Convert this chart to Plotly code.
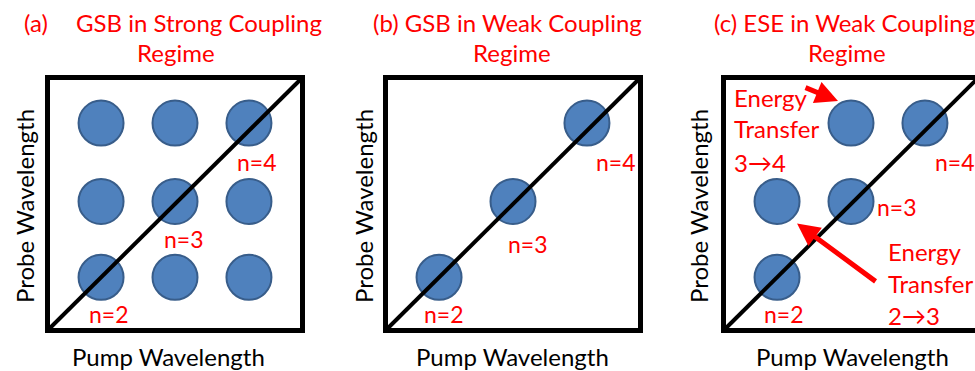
import plotly.graph_objects as go

W, H = 975, 371

# ---------------- data ----------------
levels = ["n=2", "n=3", "n=4"]
# peak positions of each level on the unit pump/probe square
pump_pos = [0.21, 0.50, 0.79]
probe_pos = [0.21, 0.51, 0.82]

# (pump level index, probe level index) of every peak in each panel
peaks_a = [(i, j) for j in range(3) for i in range(3)]
peaks_b = [(0, 0), (1, 1), (2, 2)]
peaks_c = [(0, 0), (1, 1), (2, 2), (1, 2), (0, 1)]

diag = [0.0, 1.0]

titles = ["GSB in Strong Coupling", "(b) GSB in Weak Coupling", "(c) ESE in Weak Coupling"]
subtitle = "Regime"
xlabel = "Pump Wavelength"
ylabel = "Probe Wavelength"

# ---------------- layout (pixels) ----------------
# box edges (left, right, top, bottom) of each panel
boxes = [(47.5, 302.5, 77.5, 330.5),
         (385.5, 640.5, 77.5, 330.5),
         (723.5, 978.5, 77.5, 330.5)]
PAD = 5

BLUE = "#4F81BD"
BLUE_EDGE = "#385D8A"
RED = "#FF0000"
FONT = "Lato"
TS = 24   # titles, axis labels, notes
LS = 23   # level labels

fig = go.Figure()


def px(x):
    return x / W


def py(y):
    return 1 - y / H


for k, (x0, x1, y0, y1) in enumerate(boxes):
    w, h = x1 - x0, y1 - y0
    sfx = "" if k == 0 else str(k + 1)
    d_left = max(x0 - PAD, 0)
    d_right = min(x1 + PAD, W)
    fig.update_layout(**{
        "xaxis" + sfx: dict(domain=[px(d_left), px(d_right)],
                            range=[(d_left - x0) / w, (d_right - x0) / w],
                            visible=False, anchor="y" + sfx, fixedrange=True),
        "yaxis" + sfx: dict(domain=[py(y1 + PAD), py(y0 - PAD)],
                            range=[-PAD / h, 1 + PAD / h],
                            visible=False, anchor="x" + sfx, fixedrange=True),
    })

panels = [peaks_a, peaks_b, peaks_c]
for k, peaks in enumerate(panels):
    xa = "x" if k == 0 else "x" + str(k + 1)
    ya = "y" if k == 0 else "y" + str(k + 1)
    fig.add_trace(go.Scatter(
        x=[pump_pos[i] for i, j in peaks],
        y=[probe_pos[j] for i, j in peaks],
        mode="markers", xaxis=xa, yaxis=ya, cliponaxis=False,
        marker=dict(size=45, color=BLUE, line=dict(color=BLUE_EDGE, width=2)),
        hoverinfo="skip"))
    fig.add_trace(go.Scatter(
        x=diag, y=diag, mode="lines", xaxis=xa, yaxis=ya,
        line=dict(color="black", width=4), hoverinfo="skip"))
    fig.add_shape(type="rect", xref=xa, yref=ya, x0=0, x1=1, y0=0, y1=1,
                  line=dict(color="black", width=5), layer="above")

# level labels: pixel offsets from each diagonal peak
label_shifts = [
    [(8, -37), (9, -38), (8, -39)],
    [(5, -37), (15, -43), (29, -39)],
    [(7, -37), (46, -6), (30, -39)],
]
for k in range(3):
    xa = "x" if k == 0 else "x" + str(k + 1)
    ya = "y" if k == 0 else "y" + str(k + 1)
    for n, lab in enumerate(levels):
        dx, dy = label_shifts[k][n]
        fig.add_annotation(x=pump_pos[n], y=probe_pos[n], xref=xa, yref=ya,
                           text=lab, showarrow=False, xshift=dx, yshift=dy,
                           font=dict(family=FONT, size=LS, color=RED))

# titles
fig.add_annotation(x=px(22), y=py(23), xref="paper", yref="paper", text="(a)",
                   showarrow=False, xanchor="left", yanchor="middle",
                   font=dict(family=FONT, size=TS, color=RED))
title_left = [74, 371, 712]
regime_cx = [176, 512, 847]
for k in range(3):
    fig.add_annotation(x=px(title_left[k]), y=py(23), xref="paper", yref="paper",
                       text=titles[k], showarrow=False, xanchor="left", yanchor="middle",
                       font=dict(family=FONT, size=TS, color=RED))
    fig.add_annotation(x=px(regime_cx[k]), y=py(53), xref="paper", yref="paper",
                       text=subtitle, showarrow=False, xanchor="center", yanchor="middle",
                       font=dict(family=FONT, size=TS, color=RED))

# axis titles
ylab_x = [24, 363, 698]
xlab_cx = [168, 512, 852]
for k in range(3):
    fig.add_annotation(x=px(ylab_x[k]), y=py(206), xref="paper", yref="paper",
                       text=ylabel, showarrow=False, textangle=-90,
                       xanchor="center", yanchor="middle",
                       font=dict(family=FONT, size=TS, color="black"))
    fig.add_annotation(x=px(xlab_cx[k]), y=py(356), xref="paper", yref="paper",
                       text=xlabel, showarrow=False, xanchor="center", yanchor="middle",
                       font=dict(family=FONT, size=TS, color="black"))

# energy transfer notes in panel (c)
notes = [
    (732, [97, 129, 162], ["Energy", "Transfer", "3\u21924"]),
    (886, [251, 283, 315], ["Energy", "Transfer", "2\u21923"]),
]
for left, ys, lines in notes:
    for yy, t in zip(ys, lines):
        fig.add_annotation(x=px(left), y=py(yy), xref="paper", yref="paper",
                           text=t, showarrow=False, xanchor="left", yanchor="middle",
                           font=dict(family=FONT, size=TS, color=RED))

# transfer arrows pointing at the cross peaks (pixel offsets from peak centre)
arrows = [
    ((1, 2), (-13, 22), (-34, -14)),
    ((0, 1), (20, -22), (80, 59)),
]
for (i, j), (sx, sy), (ax, ay) in arrows:
    fig.add_annotation(x=pump_pos[i], y=probe_pos[j], xref="x3", yref="y3",
                       text="", showarrow=True, xshift=sx, yshift=sy,
                       ax=ax, ay=ay, arrowhead=2, arrowsize=0.9,
                       arrowwidth=5, arrowcolor=RED)

fig.update_layout(width=W, height=H, margin=dict(l=0, r=0, t=0, b=0),
                  paper_bgcolor="white", plot_bgcolor="rgba(0,0,0,0)",
                  showlegend=False)

fig.write_html("out.html", config={"displayModeBar": False})
